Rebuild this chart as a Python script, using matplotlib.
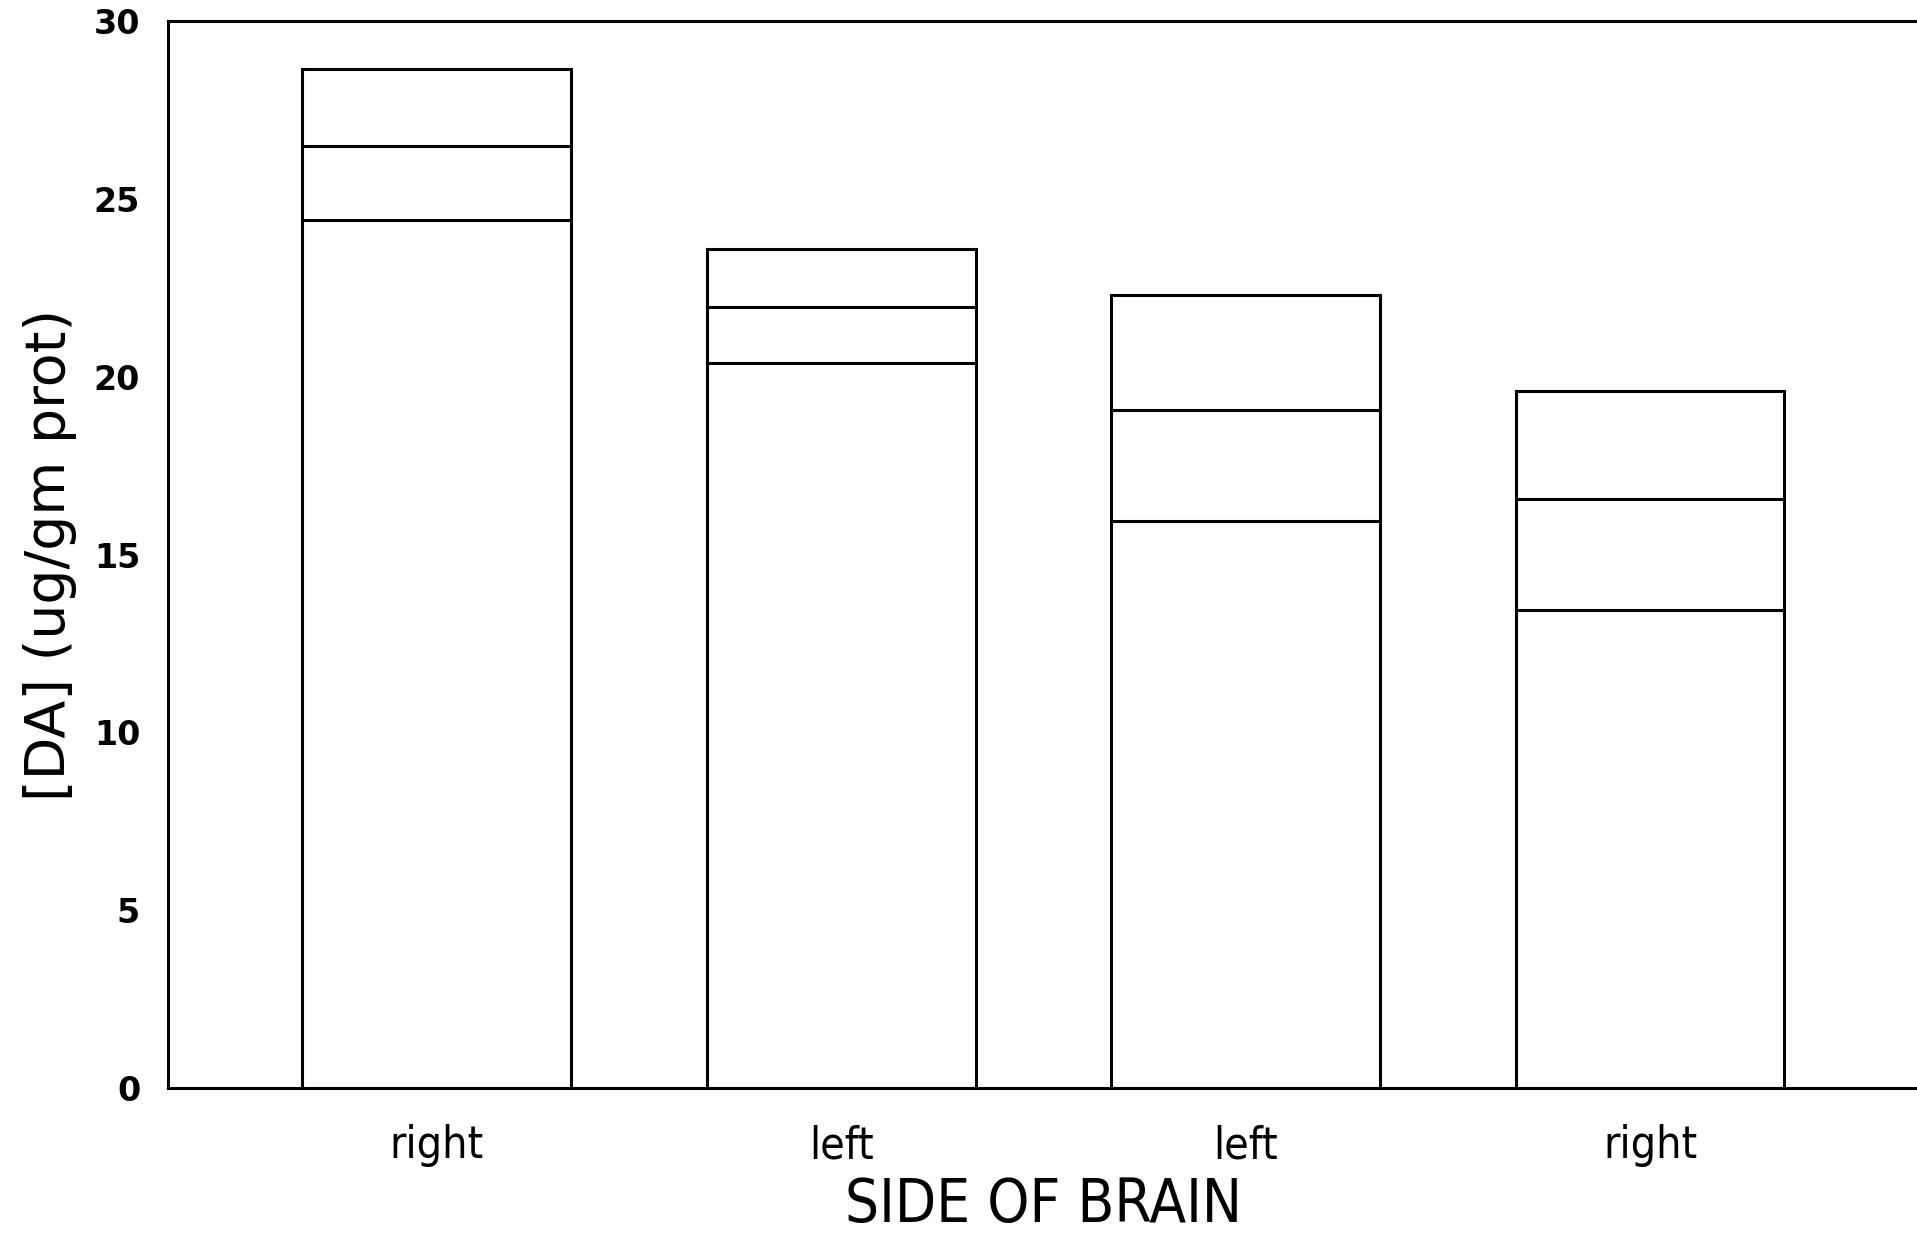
import matplotlib.pyplot as plt
import numpy as np

sides = ['right', 'left', 'left', 'right']
upper = [28.66, 23.6, 22.3, 19.6]
mean = [26.5, 21.96, 19.07, 16.56]
lower = [24.4, 20.38, 15.94, 13.44]

fig = plt.figure(figsize=(19.17, 12.38), dpi=100)
ax = fig.add_axes([0.0876, 0.121, 0.9134, 0.862])

x = np.arange(len(sides))
w = 0.665
ax.bar(x, upper, width=w, fill=False, edgecolor='black', linewidth=2.2)
ax.hlines(mean, x - w / 2, x + w / 2, colors='black', linewidth=2.2)
ax.hlines(lower, x - w / 2, x + w / 2, colors='black', linewidth=2.2)

ax.set_xlim(-0.665, 3.665)
ax.set_ylim(0, 30)
ax.set_yticks([0, 5, 10, 15, 20, 25, 30])
ax.set_xticks(x)
ax.set_xticklabels(sides, fontsize=32, fontstretch='condensed')
ax.tick_params(axis='both', length=0)
ax.tick_params(axis='y', pad=20, labelsize=24)
ax.tick_params(axis='x', pad=26)
for lab in ax.get_yticklabels():
    lab.set_fontweight('bold')

for s in ax.spines.values():
    s.set_linewidth(2.2)
ax.spines['right'].set_visible(False)

ax.set_xlabel('SIDE OF BRAIN', fontsize=43, fontstretch='condensed', labelpad=6)
ax.set_ylabel('[DA] (ug/gm prot)', fontsize=40, labelpad=12)

plt.savefig('out.png', dpi=100)
